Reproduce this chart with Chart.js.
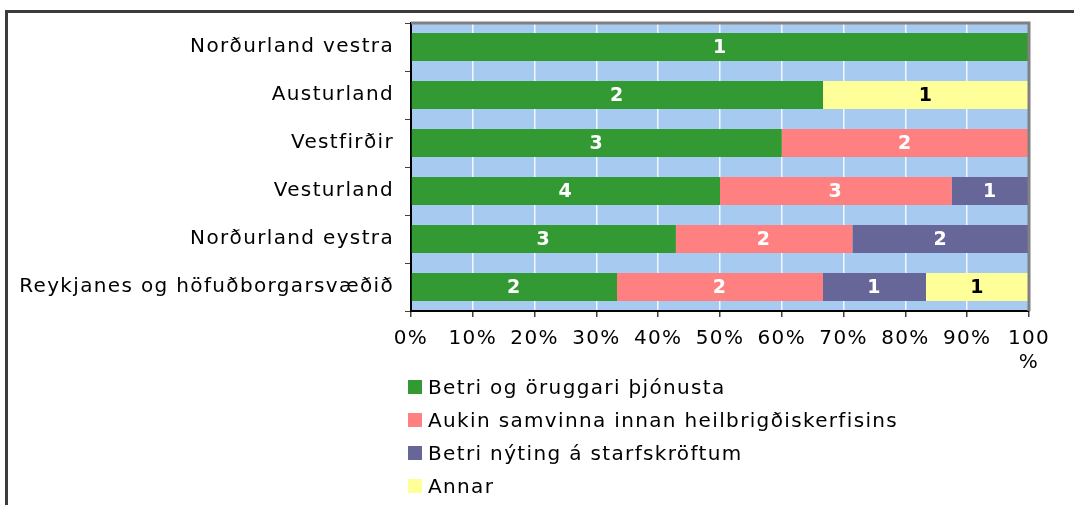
<!DOCTYPE html>
<html>
<head>
<meta charset="utf-8">
<script src="https://cdn.jsdelivr.net/npm/chart.js@4/dist/chart.umd.min.js"></script>
<style>
  body { margin: 0; background: #fff; }
  #wrap { position: relative; width: 1074px; height: 505px; overflow: hidden; }
  #frame { position: absolute; left: 5px; top: 10px; width: 1200px; height: 600px;
           border-top: 3px solid #3c3c3c; border-left: 3px solid #3c3c3c; }
  #chart { position: absolute; left: 0; top: 0; }
  #legend { position: absolute; left: 408px; top: 370px; font-family: 'DejaVu Sans'; font-size: 20px;
            letter-spacing: 1.35px; color: #000; }
  #legend div { height: 33px; display: flex; align-items: center; }
  #legend span.box { width: 14px; height: 14px; margin-right: 6px; display: inline-block; }
</style>
</head>
<body>
<div id="wrap">
  <div id="frame"></div>
  <canvas id="chart" width="1074" height="505"></canvas>
  <div id="legend"></div>
</div>
<script>
var categories = ['Norðurland vestra', 'Austurland', 'Vestfirðir', 'Vesturland', 'Norðurland eystra', 'Reykjanes og höfuðborgarsvæðið'];
var seriesNames = ['Betri og öruggari þjónusta', 'Aukin samvinna innan heilbrigðiskerfisins', 'Betri nýting á starfskröftum', 'Annar'];
var betriThjonusta = [1, 2, 3, 4, 3, 2];
var aukinSamvinna = [0, 0, 2, 3, 2, 2];
var betriNyting = [0, 0, 0, 1, 2, 1];
var annar = [0, 1, 0, 0, 0, 1];
var xTickLabels = ['0%', '10%', '20%', '30%', '40%', '50%', '60%', '70%', '80%', '90%', ['100', '%']];
var colors = ['#339933', '#FF8080', '#666699', '#FFFF99'];
var labelColors = ['#fff', '#fff', '#fff', '#000'];

var counts = [betriThjonusta, aukinSamvinna, betriNyting, annar];
var totals = categories.map(function(c, i) {
    return counts.reduce(function(s, arr) { return s + arr[i]; }, 0);
});

Chart.defaults.font.family = 'DejaVu Sans';
Chart.defaults.color = '#000';

var datasets = counts.map(function(arr, k) {
    return {
        label: seriesNames[k],
        data: arr.map(function(v, i) { return v / totals[i] * 100; }),
        counts: arr,
        backgroundColor: colors[k],
        borderWidth: 0,
        barPercentage: 0.585,
        categoryPercentage: 1
    };
});

// the original text is a bit wider than DejaVu, so space the letters out
var spacing = {
    id: 'spacing',
    beforeUpdate: function(chart) { chart.ctx.letterSpacing = '1.35px'; },
    beforeDraw: function(chart) { chart.ctx.letterSpacing = '1.35px'; }
};

// plot background + gray top/right border
var plotArea = {
    id: 'plotArea',
    beforeDraw: function(chart) {
        var a = chart.chartArea, ctx = chart.ctx;
        ctx.save();
        ctx.fillStyle = '#A6CAF0';
        ctx.fillRect(a.left, a.top, a.right - a.left, a.bottom - a.top);
        ctx.restore();
    },
    afterDatasetsDraw: function(chart) {
        var a = chart.chartArea, ctx = chart.ctx;
        ctx.save();
        ctx.strokeStyle = '#808080';
        ctx.lineWidth = 3;
        ctx.beginPath();
        ctx.moveTo(a.left, a.top);
        ctx.lineTo(a.right, a.top);
        ctx.lineTo(a.right, a.bottom);
        ctx.stroke();
        ctx.restore();
    }
};

// count labels inside the bars
var barLabels = {
    id: 'barLabels',
    afterDatasetsDraw: function(chart) {
        var ctx = chart.ctx;
        ctx.save();
        ctx.font = 'bold 19px "DejaVu Sans"';
        ctx.textAlign = 'center';
        ctx.textBaseline = 'middle';
        chart.data.datasets.forEach(function(ds, k) {
            chart.getDatasetMeta(k).data.forEach(function(el, i) {
                var n = ds.counts[i];
                if (!n) return;
                ctx.fillStyle = labelColors[k];
                ctx.fillText(String(n), (el.x + el.base) / 2, el.y + 1);
            });
        });
        ctx.restore();
    }
};

new Chart(document.getElementById('chart'), {
    type: 'bar',
    data: { labels: categories, datasets: datasets },
    plugins: [spacing, plotArea, barLabels],
    options: {
        indexAxis: 'y',
        responsive: false,
        animation: false,
        layout: { padding: { top: 23, right: 45, bottom: 134, left: 0 } },
        plugins: { legend: { display: false }, tooltip: { enabled: false } },
        scales: {
            x: {
                stacked: true,
                min: 0,
                max: 100,
                afterFit: function(s) { s.height = 60; },
                grid: { color: 'rgba(255,255,255,0.85)', lineWidth: 1.5, tickColor: '#404040', tickLength: 6 },
                border: { color: '#000', width: 2 },
                ticks: {
                    stepSize: 10,
                    padding: 10,
                    maxRotation: 0,
                    autoSkip: false,
                    font: { size: 20 },
                    callback: function(v, i) { return xTickLabels[i]; }
                }
            },
            y: {
                stacked: true,
                afterFit: function(s) { s.width = 411; },
                grid: { drawOnChartArea: false, color: '#404040', tickLength: 6 },
                border: { color: '#000', width: 2 },
                ticks: { padding: 11, font: { size: 20 } }
            }
        }
    }
});

var legend = document.getElementById('legend');
seriesNames.forEach(function(name, k) {
    var row = document.createElement('div');
    var box = document.createElement('span');
    box.className = 'box';
    box.style.background = colors[k];
    row.appendChild(box);
    row.appendChild(document.createTextNode(name));
    legend.appendChild(row);
});
</script>
</body>
</html>
